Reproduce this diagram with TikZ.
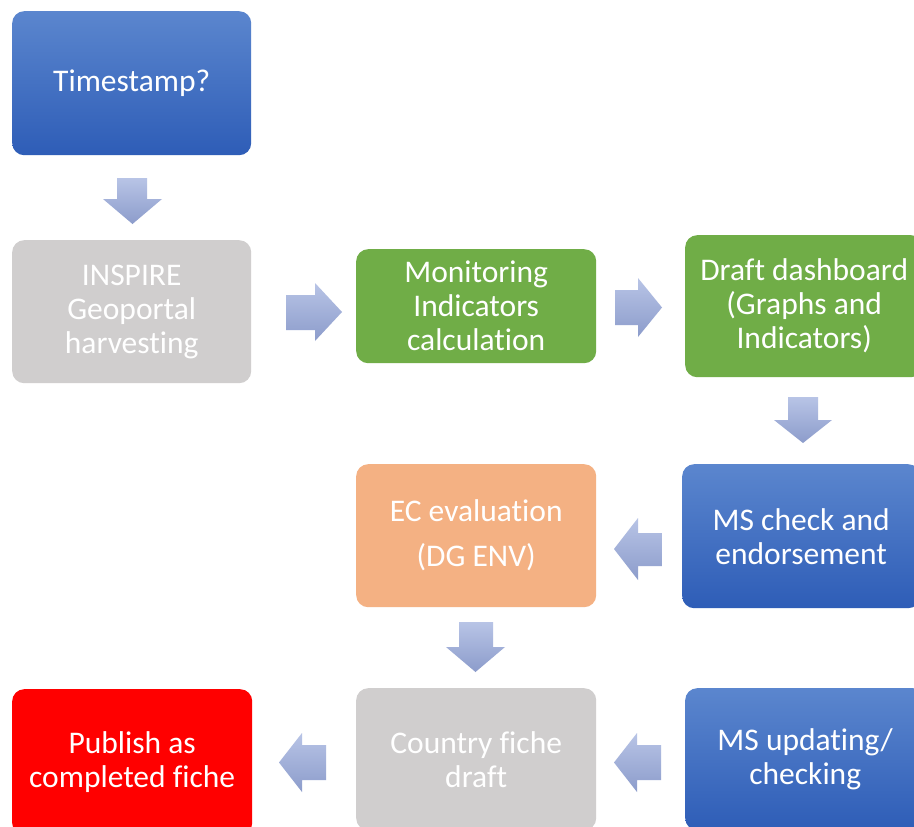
\documentclass[tikz,border=0pt]{standalone}
\usepackage{fontspec}
\setmainfont{Carlito}[Ligatures={NoCommon}]
\definecolor{bTop}{HTML}{5B86CE}
\definecolor{bBot}{HTML}{2E5DB7}
\definecolor{gFill}{HTML}{70AD47}
\definecolor{grFill}{HTML}{D0CECE}
\definecolor{oFill}{HTML}{F4B183}
\definecolor{rFill}{HTML}{FF0000}
\definecolor{aTop}{HTML}{B8C4E6}
\definecolor{aBot}{HTML}{8C9CCB}
\tikzset{
  box/.style={rounded corners=12pt, anchor=north west, inner sep=0pt, align=center,
    text=white, font=\fontsize{31.5}{34}\selectfont, draw=none},
  bluebox/.style={box, top color=bTop, bottom color=bBot},
  greenbox/.style={box, fill=gFill},
  graybox/.style={box, fill=grFill},
  orangebox/.style={box, fill=oFill},
  redbox/.style={box, fill=rFill},
  blockarrow/.style={top color=aTop, bottom color=aBot, draw=none}
}
\begin{document}
\begin{tikzpicture}[x=1pt,y=-1pt]
\useasboundingbox (0,0) rectangle (914,827);
\clip (0,0) rectangle (914,827);
\fill[white] (0,0) rectangle (914,827);
% boxes
\node[bluebox, minimum width=239pt, minimum height=144pt] (ts) at (12,11) {Timestamp?};
\node[graybox, minimum width=239pt, minimum height=143pt] (insp) at (12,240) {INSPIRE\\Geoportal\\harvesting};
\node[greenbox, minimum width=240pt, minimum height=114pt] (mon) at (356,249) {Monitoring\\Indicators\\calculation};
\node[greenbox, minimum width=238pt, minimum height=142pt] (dash) at (685,235) {Draft dashboard\\(Graphs and\\Indicators)};
\node[bluebox, minimum width=238pt, minimum height=144pt] (msc) at (682,464) {MS check and\\endorsement};
\node[orangebox, minimum width=240pt, minimum height=143pt] (ec) at (356,464) {EC evaluation\\[11pt](DG ENV)};
\node[graybox, minimum width=240pt, minimum height=142pt] (cf) at (356,688) {Country fiche\\draft};
\node[redbox, minimum width=240pt, minimum height=146pt] (pub) at (12,689) {Publish as\\completed fiche};
\node[bluebox, minimum width=240pt, minimum height=142pt] (msu) at (685,688) {MS updating/\\checking};
% block arrows
% down: Timestamp -> INSPIRE
\path[blockarrow] (117,178) -- (147,178) -- (147,199) -- (162,199) -- (132.5,224) -- (103,199) -- (117,199) -- cycle;
% right: INSPIRE -> Monitoring
\path[blockarrow] (286,295) -- (315,295) -- (315,283) -- (342,312) -- (315,341) -- (315,330) -- (286,330) -- cycle;
% right: Monitoring -> Dashboard
\path[blockarrow] (615,290) -- (638,290) -- (638,278) -- (662,307.5) -- (638,337) -- (638,325) -- (615,325) -- cycle;
% down: Dashboard -> MS check
\path[blockarrow] (788,397) -- (818,397) -- (818,420) -- (832,420) -- (803,443) -- (774,420) -- (788,420) -- cycle;
% left: MS check -> EC
\path[blockarrow] (662,533) -- (638,533) -- (638,518) -- (614,549) -- (638,580) -- (638,566) -- (662,566) -- cycle;
% down: EC -> Country fiche
\path[blockarrow] (459,622) -- (493,622) -- (493,647) -- (505,647) -- (475.5,672) -- (446,647) -- (459,647) -- cycle;
% left: MS updating -> Country fiche
\path[blockarrow] (661,745) -- (637,745) -- (637,733) -- (614,762.5) -- (637,792) -- (637,780) -- (661,780) -- cycle;
% left: Country fiche -> Publish
\path[blockarrow] (326,745) -- (302,745) -- (302,733) -- (279,762.5) -- (302,792) -- (302,780) -- (326,780) -- cycle;
\end{tikzpicture}
\end{document}
